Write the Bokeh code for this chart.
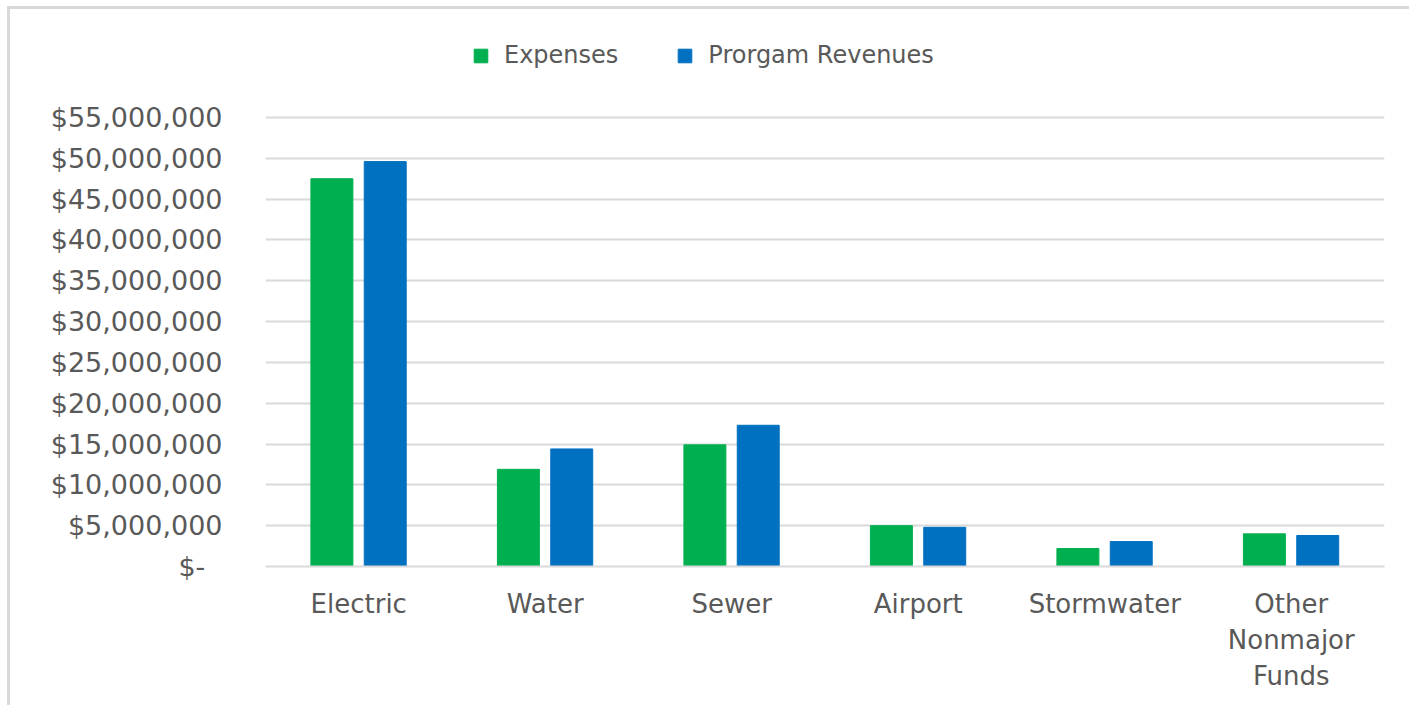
from bokeh.plotting import figure
from bokeh.models import (ColumnDataSource, FactorRange, Range1d, FixedTicker,
                          CustomJSTickFormatter, Legend, LegendItem)
from bokeh.transform import dodge
from bokeh.embed import file_html
from bokeh.resources import INLINE

categories = ["Electric", "Water", "Sewer", "Airport", "Stormwater", "Other\nNonmajor\nFunds"]
expenses = [47500000, 11900000, 14900000, 5000000, 2200000, 4000000]
revenues = [49600000, 14400000, 17300000, 4800000, 3050000, 3800000]
series_names = ["Expenses", "Prorgam Revenues"]
y_ticks = list(range(0, 55000001, 5000000))

GREEN = "#00B050"
BLUE = "#0070C0"
TEXT = "#595959"
GRID = "#D9D9D9"
FONT = "DejaVu Sans"

# layout (page pixels)
FIG_X, FIG_Y = 10, 9          # figure content origin after margin + border
FRAME_L, FRAME_R = 265, 1384
FRAME_T, FRAME_B = 25, 566     # frame extended upward to hold the legend
Y_TOP_PX = 117                 # where y_ticks[-1] sits
W, H = 1412 - FIG_X, 708 - FIG_Y

ymax = y_ticks[-1]
scale = (FRAME_B - Y_TOP_PX) / ymax
y_end = ymax + (Y_TOP_PX - FRAME_T) / scale

src = ColumnDataSource(dict(cat=categories, exp=expenses, rev=revenues))

p = figure(width=W, height=H, output_backend="svg", toolbar_location=None,
           x_range=FactorRange(*categories, range_padding=0),
           y_range=Range1d(0, y_end),
           min_border_left=FRAME_L - FIG_X, min_border_right=FIG_X + W - FRAME_R,
           min_border_top=FRAME_T - FIG_Y, min_border_bottom=FIG_Y + H - FRAME_B)
p.styles = {"margin-left": "7px", "margin-top": "6px",
            "border-left": f"3px solid {GRID}", "border-top": f"3px solid {GRID}"}
p.outline_line_color = None
p.background_fill_color = "white"
p.border_fill_color = "white"

r1 = p.vbar(x=dodge("cat", -0.144, range=p.x_range), top="exp", width=0.225,
            source=src, fill_color=GREEN, line_color=GREEN)
r2 = p.vbar(x=dodge("cat", 0.142, range=p.x_range), top="rev", width=0.225,
            source=src, fill_color=BLUE, line_color=BLUE)

p.xgrid.grid_line_color = None
p.ygrid.ticker = FixedTicker(ticks=y_ticks)
p.ygrid.grid_line_color = GRID
p.ygrid.grid_line_width = 2

p.yaxis.ticker = FixedTicker(ticks=y_ticks)
p.yaxis.formatter = CustomJSTickFormatter(code="""
if (tick == 0) { return "$-\\u00a0\\u00a0"; }
return "$" + Math.round(tick).toLocaleString("en-US");
""")
p.yaxis.axis_line_color = None
p.yaxis.major_tick_line_color = None
p.yaxis.minor_tick_line_color = None
p.yaxis.major_label_standoff = 37
p.yaxis.major_label_text_font = FONT
p.yaxis.major_label_text_font_size = "27px"
p.yaxis.major_label_text_color = TEXT

p.xaxis.axis_line_color = GRID
p.xaxis.axis_line_width = 2
p.xaxis.major_tick_line_color = None
p.xaxis.minor_tick_line_color = None
p.xaxis.major_label_standoff = 16
p.xaxis.major_label_text_font = FONT
p.xaxis.major_label_text_font_size = "26px"
p.xaxis.major_label_text_color = TEXT
p.xaxis.major_label_text_line_height = 1.2

legend = Legend(items=[LegendItem(label=series_names[0], renderers=[r1]),
                       LegendItem(label=series_names[1], renderers=[r2])],
                orientation="horizontal", location=(472 - FRAME_L, FRAME_B - 69))
legend.padding = 0
legend.margin = 0
legend.label_text_font = FONT
legend.label_text_font_size = "24px"
legend.label_text_color = TEXT
legend.label_height = 28
legend.glyph_width = 17
legend.glyph_height = 17
legend.spacing = 58
legend.label_standoff = 15
legend.border_line_color = None
legend.background_fill_alpha = 0
p.add_layout(legend, "center")

open("out.html", "w").write(file_html(p, INLINE))
